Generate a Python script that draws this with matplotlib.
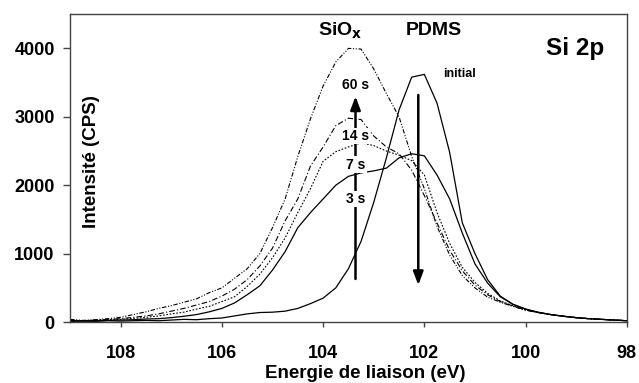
import matplotlib
matplotlib.use("Agg")
import matplotlib.pyplot as plt

plt.rcParams['font.family'] = ['Liberation Sans', 'DejaVu Sans']
plt.rcParams['font.weight'] = 'bold'

# binding energy grid (eV), 109 -> 98
energy = [109.0, 108.75, 108.5, 108.25, 108.0, 107.75, 107.5, 107.25, 107.0,
          106.75, 106.5, 106.25, 106.0, 105.75, 105.5, 105.25, 105.0, 104.75,
          104.5, 104.25, 104.0, 103.75, 103.5, 103.25, 103.0, 102.75, 102.5,
          102.25, 102.0, 101.75, 101.5, 101.25, 101.0, 100.75, 100.5, 100.25,
          100.0, 99.75, 99.5, 99.25, 99.0, 98.75, 98.5, 98.25, 98.0]

cps_initial = [10, 15, 10, 20, 15, 20, 25, 20, 30, 40, 35, 50, 60, 90, 120, 140,
               145, 160, 200, 270, 350, 500, 780, 1180, 1750, 2400, 3100, 3580,
               3620, 3200, 2480, 1450, 1000, 620, 380, 260, 190, 145, 110, 85,
               65, 50, 40, 30, 20]
cps_3s = [20, 15, 20, 25, 30, 35, 45, 50, 65, 85, 110, 150, 200, 280, 400, 530,
          760, 1030, 1380, 1600, 1800, 2000, 2130, 2180, 2210, 2250, 2400, 2460,
          2430, 2150, 1800, 1300, 850, 570, 370, 260, 190, 140, 110, 85, 65,
          50, 40, 30, 20]
cps_7s = [25, 20, 25, 35, 40, 55, 70, 90, 120, 145, 190, 230, 300, 370, 520, 700,
          940, 1230, 1600, 1950, 2350, 2490, 2560, 2620, 2580, 2500, 2440, 2360,
          2150, 1600, 1150, 800, 580, 420, 310, 240, 180, 140, 110, 85, 65, 50,
          40, 30, 20]
cps_14s = [30, 20, 30, 40, 50, 70, 90, 120, 160, 200, 250, 300, 380, 480, 620,
           820, 1080, 1480, 1800, 2280, 2560, 2870, 2980, 2960, 2720, 2560, 2460,
           2220, 1850, 1450, 1050, 750, 540, 400, 300, 235, 175, 140, 110, 85,
           65, 50, 40, 30, 20]
cps_60s = [40, 25, 35, 50, 70, 110, 150, 200, 240, 290, 340, 430, 500, 640, 780,
           1000, 1380, 1800, 2420, 2970, 3450, 3800, 4000, 3990, 3700, 3340,
           3000, 2420, 1950, 1400, 980, 680, 500, 365, 290, 230, 175, 140, 110,
           85, 65, 50, 40, 30, 20]

fig = plt.figure(figsize=(6.39, 3.83), dpi=100)
ax = fig.add_axes([0.1095, 0.159, 0.8715, 0.804])

ax.plot(energy, cps_initial, color='black', lw=0.9, ls='-')
ax.plot(energy, cps_3s, color='black', lw=0.9, ls='-')
ax.plot(energy, cps_7s, color='black', lw=0.8, ls=(0, (1.5, 1.5)))
ax.plot(energy, cps_14s, color='black', lw=0.8, ls=(0, (5, 2, 1, 2)))
ax.plot(energy, cps_60s, color='black', lw=0.8, ls=(0, (4, 1.5, 1, 1.5, 1, 1.5)))

ax.set_xlim(109, 98)
ax.set_ylim(0, 4500)
ax.set_xticks([108, 106, 104, 102, 100, 98])
ax.set_yticks([0, 1000, 2000, 3000, 4000])
ax.tick_params(direction='out', width=1, labelsize=13, color='#444444')
ax.tick_params(axis='x', length=3.5, pad=13)
ax.tick_params(axis='y', length=5, pad=6)
for lab in ax.get_xticklabels() + ax.get_yticklabels():
    lab.set_fontweight('bold')
for s in ax.spines.values():
    s.set_color('#444444')
    s.set_linewidth(1)

ax.set_xlabel('Energie de liaison (eV)', fontsize=13.5, fontweight='bold')
ax.xaxis.set_label_coords(0.53, -0.166)
ax.xaxis.label.set_va('center')
ax.text(0.038, 0.52, 'Intensité (CPS)', transform=ax.transAxes, rotation=90,
        fontsize=13.5, fontweight='bold', ha='center', va='center')

# arrows
ax.annotate('', xy=(103.36, 3340), xytext=(103.36, 590),
            arrowprops=dict(arrowstyle='-|>,head_length=0.8,head_width=0.3',
                            color='black', lw=1.8), zorder=3)
ax.annotate('', xy=(102.12, 500), xytext=(102.12, 3360),
            arrowprops=dict(arrowstyle='-|>,head_length=0.8,head_width=0.3',
                            color='black', lw=1.8), zorder=3)

box = dict(facecolor='white', edgecolor='none', pad=1)
for txt, y in [('60 s', 3470), ('14 s', 2720), ('7 s', 2300), ('3 s', 1800)]:
    ax.text(103.36, y, txt, fontsize=10, fontweight='bold', ha='center',
            va='center', bbox=box, zorder=4)

ax.text(103.66, 4263, r'SiO$_\mathbf{x}$', fontsize=14, fontweight='bold',
        ha='center', va='center')
ax.text(101.82, 4263, 'PDMS', fontsize=14, fontweight='bold', ha='center', va='center')
ax.text(98.45, 4000, 'Si 2p', fontsize=17.5, fontweight='bold', ha='right', va='center')
ax.text(101.63, 3620, 'initial', fontsize=9, fontweight='bold', ha='left', va='center')

fig.savefig('out.png', dpi=100)
